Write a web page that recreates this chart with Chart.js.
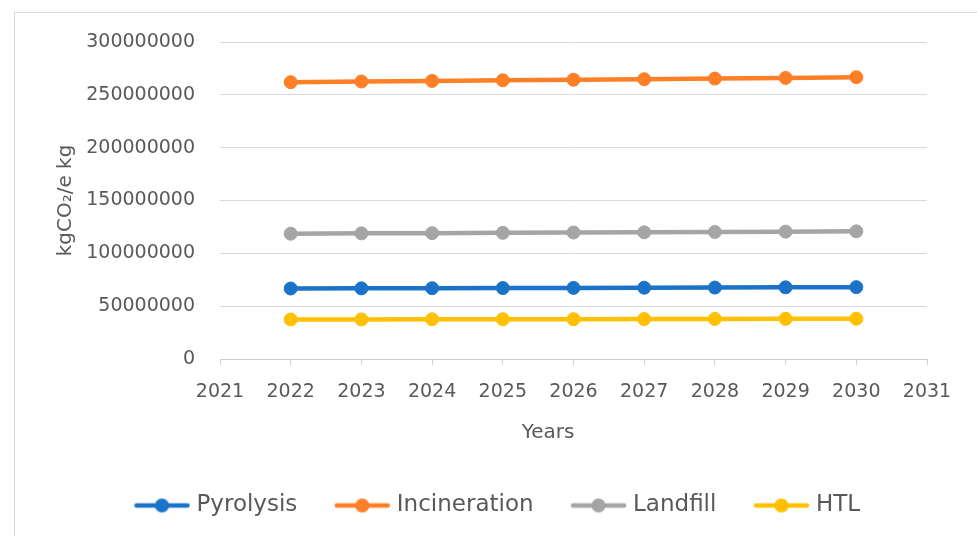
<!DOCTYPE html>
<html>
<head>
<meta charset="utf-8">
<script src="https://cdn.jsdelivr.net/npm/chart.js@4.4.1/dist/chart.umd.min.js"></script>
<style>
  html, body { margin: 0; padding: 0; background: #fff; overflow: hidden; }
  #marco { position: absolute; left: 14px; top: 12px; width: 1000px; height: 600px; border: 1px solid #d9d9d9; }
  #base { position: absolute; left: 0; top: 0; width: 977px; height: 536px; }
</style>
</head>
<body>
<div id="marco"></div>
<div id="base"><canvas id="graficaEmisiones" width="977" height="536"></canvas></div>
<script>
// datos
const anios = [2022, 2023, 2024, 2025, 2026, 2027, 2028, 2029, 2030];
const pirolisis = [66700000, 66850000, 67000000, 67150000, 67300000, 67450000, 67600000, 67800000, 68000000];
const incineracion = [262000000, 262600000, 263200000, 263800000, 264300000, 264800000, 265400000, 266000000, 266700000];
const vertedero = [118600000, 118900000, 119100000, 119400000, 119700000, 119900000, 120200000, 120500000, 120800000];
const htl = [37400000, 37500000, 37600000, 37650000, 37700000, 37800000, 37900000, 38000000, 38100000];
const nombres = ["Pyrolysis", "Incineration", "Landfill", "HTL"];
const colores = ["#1a73c9", "#ff7f27", "#a5a5a5", "#ffc000"];

const ejeXMin = 2021, ejeXMax = 2031;
const ejeYMin = 0, ejeYMax = 300000000, ejeYPaso = 50000000;

Chart.defaults.font.family = "'DejaVu Sans', sans-serif";
Chart.defaults.color = "#595959";

function puntos(valores) {
  return anios.map((a, i) => ({ x: a, y: valores[i] }));
}

// simbolo de leyenda: linea con circulo
function simbolo(color) {
  const c = document.createElement('canvas');
  c.width = 57;
  c.height = 16;
  const g = c.getContext('2d');
  g.strokeStyle = color;
  g.lineWidth = 4.5;
  g.lineCap = 'round';
  g.beginPath();
  g.moveTo(3, 8);
  g.lineTo(54, 8);
  g.stroke();
  g.fillStyle = color;
  g.beginPath();
  g.arc(28.5, 8, 7, 0, Math.PI * 2);
  g.fill();
  return c;
}
const simbolos = colores.map(simbolo);

const series = [pirolisis, incineracion, vertedero, htl];

const grafica = document.getElementById('graficaEmisiones').getContext('2d');

new Chart(grafica, {
  type: 'line',
  data: {
    datasets: series.map((s, i) => ({
      label: nombres[i],
      data: puntos(s),
      borderColor: colores[i],
      backgroundColor: colores[i],
      borderWidth: 4.5,
      pointRadius: 6.5,
      pointBorderWidth: 1,
      pointBackgroundColor: colores[i],
      pointBorderColor: colores[i],
      tension: 0,
      fill: false
    }))
  },
  options: {
    responsive: false,
    animation: false,
    layout: {
      padding: { left: 72, right: 50, top: 42, bottom: 9 }
    },
    plugins: {
      tooltip: { enabled: false },
      legend: {
        position: 'bottom',
        labels: {
          usePointStyle: true,
          pointStyleWidth: 46,
          boxHeight: 23,
          padding: 42,
          color: '#595959',
          font: { size: 23 },
          generateLabels: function(chart) {
            const items = Chart.defaults.plugins.legend.labels.generateLabels(chart);
            items.forEach((it, i) => { it.pointStyle = simbolos[i]; });
            return items;
          }
        }
      }
    },
    scales: {
      x: {
        type: 'linear',
        min: ejeXMin,
        max: ejeXMax,
        afterFit: function(scale) { scale.height = 93; },
        ticks: {
          stepSize: 1,
          padding: 16,
          font: { size: 19 },
          color: '#595959',
          callback: function(v) { return String(v); }
        },
        grid: {
          drawOnChartArea: false,
          drawTicks: true,
          tickLength: 6,
          color: '#d0d0d0'
        },
        border: { display: true, color: '#d0d0d0', width: 1 },
        title: {
          display: true,
          text: 'Years        ',
          color: '#595959',
          font: { size: 20 },
          padding: { top: 0, bottom: 7 }
        }
      },
      y: {
        min: ejeYMin,
        max: ejeYMax,
        afterFit: function(scale) { scale.width = 148; },
        ticks: {
          stepSize: ejeYPaso,
          padding: 25,
          font: { size: 19 },
          color: '#595959',
          callback: function(v) { return String(v); }
        },
        grid: {
          drawTicks: false,
          color: '#d9d9d9',
          lineWidth: 1
        },
        border: { display: false },
        title: {
          display: true,
          text: 'kgCO\u2082/e kg',
          color: '#595959',
          font: { size: 20 },
          padding: { top: -18, bottom: 0 }
        }
      }
    }
  }
});
</script>
</body>
</html>
